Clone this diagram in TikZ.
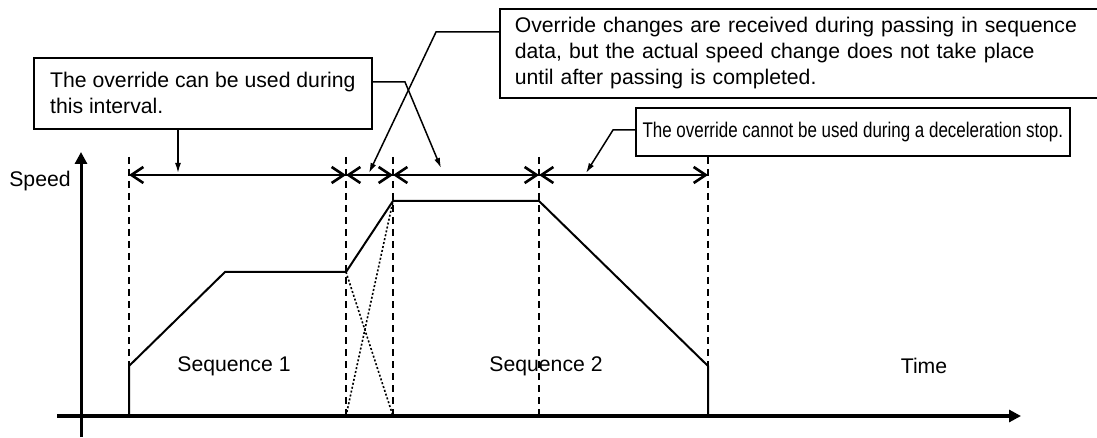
\documentclass[tikz,border=0pt]{standalone}
\usepackage{fontspec}
\setmainfont{Liberation Sans}
\newfontfamily\narrowfont[FakeStretch=0.8]{Liberation Sans}
\usetikzlibrary{arrows.meta}

\begin{document}
\begin{tikzpicture}[
    x=1pt, y=-1pt,
    note/.style={
      draw, line width=1.6pt, align=left, anchor=north west, inner ysep=2pt,
      font=\fontsize{21.2}{26}\selectfont
    },
    tag/.style={font=\fontsize{21.2}{26}\selectfont},
    axis/.style={-{Triangle[length=12pt, width=12pt]}},
    guide/.style={dash pattern=on 7pt off 5pt, line width=1.7pt},
    prof/.style={line width=2pt},
    cross/.style={dash pattern=on 2pt off 2pt, line width=1.6pt},
    span/.style={{Straight Barb[length=12pt, width=16pt]}-{Straight Barb[length=12pt, width=16pt]}, line width=2.6pt},
    ptr/.style={-{Latex[length=10pt, width=6pt]}, line width=1.5pt}
  ]
    \useasboundingbox (0,0) rectangle (1097,438);
    \clip (0,0) rectangle (1097,438);

    % --- axes ---
    \draw[axis, line width=4pt] (57,416) -- (1021,416);
    \draw[axis, line width=3pt] (81,437) -- (81,152);
    \node[tag] (speed) at (40,181) {Speed};
    \node[tag] (time)  at (924,366) {Time};

    % --- interval guides ---
    \foreach \x in {129,346,393,539,708}
      \draw[guide] (\x,157) -- (\x,416);

    % --- speed profile ---
    \draw[prof] (129,416) -- (129,366) -- (225,272) -- (346,272) -- (393,201)
      -- (539,201) -- (708,366) -- (708,416);
    \draw[cross] (346,272) -- (393,416);
    \draw[cross] (346,416) -- (393,201);
    \node[tag] (seq1) at (234,366) {Sequence 1};
    \node[tag] (seq2) at (546,366) {Sequence 2};

    % --- intervals ---
    \coordinate (t0) at (129,175);
    \coordinate (t1) at (346,175);
    \coordinate (t2) at (393,175);
    \coordinate (t3) at (539,175);
    \coordinate (t4) at (708,175);
    \draw[span] (t0) -- (t1);
    \draw[span] (t1) -- (t2);
    \draw[span] (t2) -- (t3);
    \draw[span] (t3) -- (t4);

    % --- notes ---
    \node[note, minimum width=338pt, minimum height=71pt]
      (can) at (33,57) {The override can be used during\\this interval.};
    \node[note, minimum width=620pt, minimum height=89pt, text width=590pt, inner xsep=13pt]
      (recv) at (499,8) {Override changes are received during passing in sequence\\data, but the actual speed change does not take place\\until after passing is completed.};
    \node[note, minimum width=434pt, minimum height=48pt, inner xsep=5pt,
      font={\narrowfont\fontsize{21.2}{26}\selectfont}]
      (cannot) at (635,107) {The override cannot be used during a deceleration stop.};

    \coordinate (tipA)  at (178,173);
    \coordinate (bendB) at (405,82);
    \coordinate (tipB)  at (441,168);
    \coordinate (bendC) at (436,32);
    \coordinate (tipC)  at (369,173);
    \coordinate (bendD) at (613,130);
    \coordinate (tipD)  at (586,173);
    \draw[ptr] (can.south -| tipA) -- (tipA);
    \draw[ptr] (can.east |- bendB) -- (bendB) -- (tipB);
    \draw[ptr] (recv.west |- bendC) -- (bendC) -- (tipC);
    \draw[ptr] (cannot.west |- bendD) -- (bendD) -- (tipD);
  \end{tikzpicture}
\end{document}
